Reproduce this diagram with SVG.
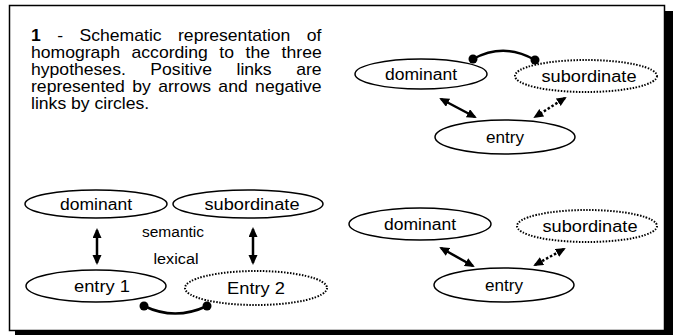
<svg xmlns="http://www.w3.org/2000/svg" width="673" height="335" viewBox="0 0 673 335">
<style>
.node{fill:#fff;stroke:#000;stroke-width:1.5}
.dot{stroke-dasharray:1.5 1.5;stroke-width:2}
.lbl{font-family:"Liberation Sans",Arial,sans-serif;font-size:16px;fill:#000;text-anchor:middle}
.small{font-size:14px}
.cap{font-family:"Liberation Sans",Arial,sans-serif;font-size:16px;fill:#000}
.pos{stroke:#000;stroke-width:2.5;fill:none;marker-start:url(#ah);marker-end:url(#ah)}
.posd{stroke-dasharray:2.5 2}
.neg{stroke:#000;stroke-width:2.5;fill:none}
.end{fill:#000}
</style>
<defs>
<marker id="ah" markerUnits="userSpaceOnUse" markerWidth="11" markerHeight="10" refX="8" refY="4.5" orient="auto-start-reverse" viewBox="0 0 11 10">
<path d="M0,0 L10,4.5 L0,9 z" fill="#000"/>
</marker>
</defs>
<rect x="15" y="11" width="658" height="324" fill="#000"/>
<rect id="frame" x="9.5" y="5.5" width="655" height="325" fill="#fff" stroke="#000" stroke-width="1.5"/>
<g id="caption" transform="scale(1.1 1)">
<text class="cap" x="28.2" y="41" word-spacing="10.5"><tspan font-weight="bold">1</tspan> - Schematic representation of</text>
<text class="cap" x="28.2" y="58" word-spacing="6.1">homograph according to the three</text>
<text class="cap" x="28.2" y="75" word-spacing="17.9">hypotheses. Positive links are</text>
<text class="cap" x="28.2" y="92" word-spacing="2.3">represented by arrows and negative</text>
<text class="cap" x="28.2" y="109">links by circles.</text>
</g>
<g id="connectors">
<line class="pos" x1="441" y1="99" x2="475" y2="117"/>
<line class="pos posd" x1="565" y1="98" x2="535" y2="117"/>
<path class="neg" d="M473,59 Q504,42 535,60"/>
<circle class="end" cx="473" cy="59" r="4.5"/>
<circle class="end" cx="535" cy="60" r="4.5"/>
<line class="pos" x1="97" y1="230" x2="97" y2="263"/>
<line class="pos" x1="253" y1="229" x2="253" y2="263"/>
<path class="neg" d="M144,306 Q175,321 207,306"/>
<circle class="end" cx="144" cy="306" r="4.5"/>
<circle class="end" cx="207" cy="306" r="4.5"/>
<line class="pos" x1="441" y1="248" x2="473" y2="266"/>
<line class="pos posd" x1="564" y1="249" x2="535" y2="265"/>
</g>
<g id="h1-dominant"><ellipse class="node" cx="421" cy="74" rx="66" ry="15"/><text class="lbl" x="421" y="80" textLength="72" lengthAdjust="spacingAndGlyphs">dominant</text></g>
<g id="h1-subordinate"><ellipse class="node dot" cx="586" cy="76" rx="71" ry="16"/><text class="lbl" x="589" y="82" textLength="95" lengthAdjust="spacingAndGlyphs">subordinate</text></g>
<g id="h1-entry"><ellipse class="node" cx="505" cy="137" rx="70" ry="17"/><text class="lbl" x="505" y="143" textLength="38" lengthAdjust="spacingAndGlyphs">entry</text></g>
<g id="h2-dominant"><ellipse class="node" cx="96" cy="204" rx="71" ry="14"/><text class="lbl" x="96" y="210" textLength="72" lengthAdjust="spacingAndGlyphs">dominant</text></g>
<g id="h2-subordinate"><ellipse class="node" cx="248" cy="204" rx="75" ry="14"/><text class="lbl" x="252" y="210" textLength="95" lengthAdjust="spacingAndGlyphs">subordinate</text></g>
<g id="h2-entry1"><ellipse class="node" cx="96" cy="286" rx="70" ry="16"/><text class="lbl" x="102" y="292" textLength="56" lengthAdjust="spacingAndGlyphs">entry 1</text></g>
<g id="h2-entry2"><ellipse class="node dot" cx="256" cy="288" rx="71" ry="17"/><text class="lbl" x="256" y="294" textLength="58" lengthAdjust="spacingAndGlyphs">Entry 2</text></g>
<g id="labels">
<text class="lbl small" x="173" y="237" textLength="62" lengthAdjust="spacingAndGlyphs">semantic</text>
<text class="lbl small" x="176" y="264" textLength="45" lengthAdjust="spacingAndGlyphs">lexical</text>
</g>
<g id="h3-dominant"><ellipse class="node" cx="420" cy="224" rx="71" ry="16"/><text class="lbl" x="420" y="230" textLength="72" lengthAdjust="spacingAndGlyphs">dominant</text></g>
<g id="h3-subordinate"><ellipse class="node dot" cx="587" cy="226" rx="70" ry="16"/><text class="lbl" x="590" y="232" textLength="95" lengthAdjust="spacingAndGlyphs">subordinate</text></g>
<g id="h3-entry"><ellipse class="node" cx="504" cy="285" rx="70" ry="17"/><text class="lbl" x="504" y="291" textLength="38" lengthAdjust="spacingAndGlyphs">entry</text></g>
</svg>
